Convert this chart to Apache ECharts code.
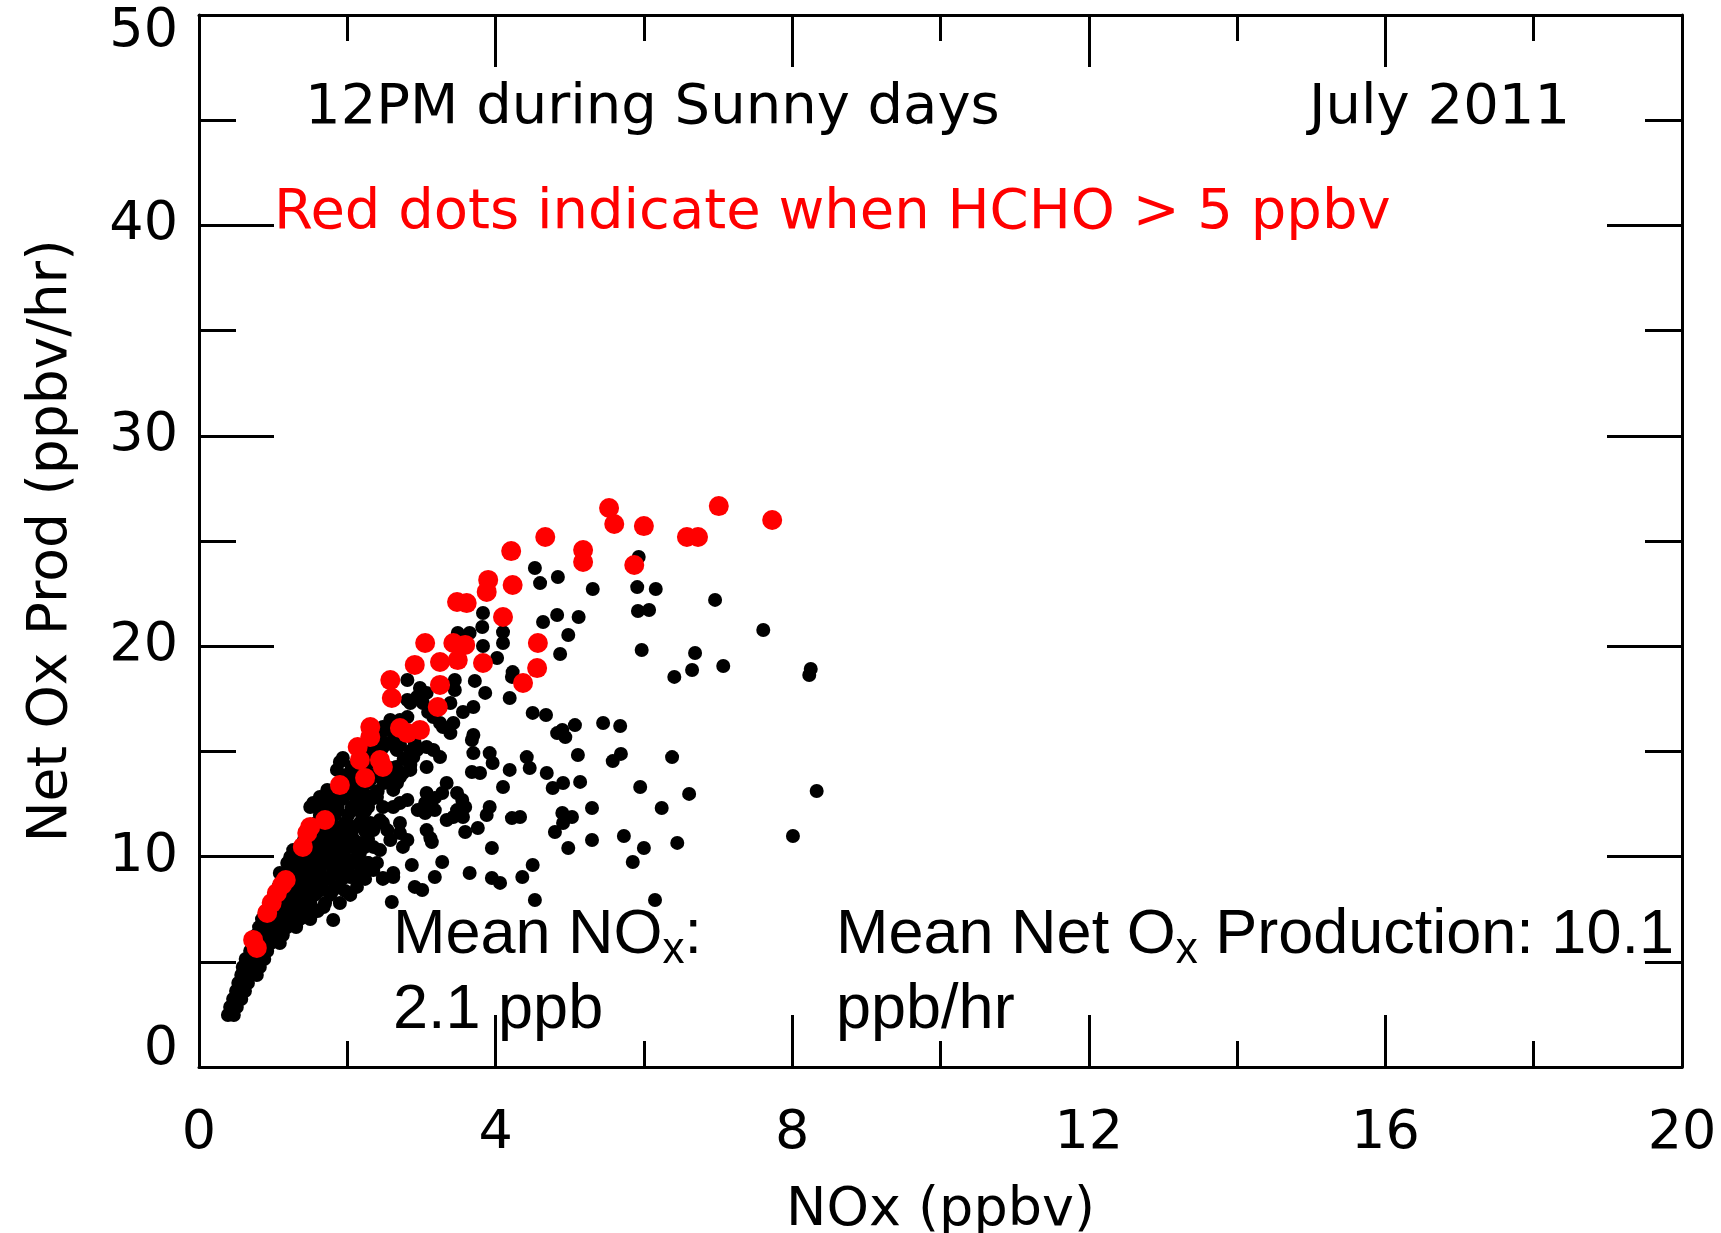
<!DOCTYPE html>
<html>
<head>
<meta charset="utf-8">
<script src="https://cdn.jsdelivr.net/npm/echarts@6/dist/echarts.min.js"></script>
<style>
html,body{margin:0;padding:0;background:#fff;}
#chart{width:1721px;height:1233px;}
</style>
</head>
<body>
<div id="chart"></div>
<script>
// ---- data: [NOx (ppbv), Net Ox Prod (ppbv/hr)] ----
const xAxisRange = [0, 20];
const yAxisRange = [0, 50];
const xTickStep = 4;
const yTickStep = 10;

// black dots: scattered upper / right part
const blackScatter = [
  [5.93,24.24],[5.91,22.81],[6.16,22.72],[5.92,21.67],[6.07,21.72],[6.96,22.20],[7.61,20.77],[5.97,19.82],
  [6.69,19.68],[6.65,18.87],[6.41,18.54],[7.07,19.06],[8.25,18.92],[8.23,18.63],[5.45,16.35],[5.68,16.21],
  [5.69,14.88],[5.58,14.54],[6.38,14.73],[5.95,13.31],[6.61,12.98],[6.24,12.31],[8.33,13.12],[5.73,10.98],
  [6.00,10.41],[6.45,10.65],[8.01,10.98],[6.15,7.94],
  [4.53,23.72],[4.60,23.00],[4.84,23.29],[5.31,22.72],[3.83,21.58],[3.82,20.91],[3.65,20.63],[3.49,20.63],
  [4.10,20.67],[4.10,20.15],[4.64,21.15],[4.83,21.48],[5.12,21.39],[4.98,20.53],[4.87,19.63],[3.83,20.01],
  [4.02,19.44],[4.23,18.77],[4.22,18.54],[4.19,17.54],[3.72,18.35],[3.86,17.78],[3.45,18.39],[3.45,17.92],
  [2.81,18.39],[2.98,18.01],[3.07,17.78],[2.94,17.59],[2.85,17.30],[3.02,17.30],[3.09,16.87],[3.39,17.30],
  [3.56,16.87],[3.70,17.11],[2.81,16.63],[3.16,16.63],[3.25,16.35],[3.43,16.35],[3.39,15.87],[3.29,16.16],
  [3.70,15.78],[4.50,16.83],[4.68,16.73],[4.83,15.87],[4.90,16.02],[5.07,16.25],[4.94,15.68],[2.48,16.16],
  [2.44,15.87],[3.68,15.54],[3.70,14.92],[3.92,14.92],[3.96,14.45],[4.42,14.73],[4.46,14.21],[5.11,14.83],
  [4.69,13.97],[4.19,14.12],[4.10,13.31],[4.77,13.26],[4.91,13.50],[5.14,13.55],[3.68,14.02],[3.79,13.97],
  [3.34,13.50],[3.28,13.02],[3.18,12.79],[3.05,12.55],[2.95,12.21],[3.05,12.07],[3.18,12.21],[3.48,13.02],
  [3.55,12.69],[3.48,12.21],[3.43,11.88],[3.34,11.74],[3.59,12.36],[3.56,11.88],[3.92,12.36],[3.88,11.98],
  [4.22,11.83],[4.33,11.88],[4.90,12.07],[5.03,11.88],[4.91,11.60],[4.80,11.17],[5.30,12.31],[4.98,10.41],
  [5.30,10.79],[3.59,11.17],[3.76,11.36],[3.07,11.26],[3.12,10.88],[3.14,10.69],[3.95,10.41],[2.87,9.60],
  [3.28,9.74],[3.18,9.03],[3.65,9.22],[3.95,8.98],[4.06,8.75],[4.36,9.03],[4.50,9.60],[2.91,8.56],
  [3.01,8.41],[2.60,7.84],[4.53,7.94],[5.85,9.74],[2.28,9.70],[1.81,6.99],[2.48,8.98],[2.62,9.03]
];

// black dots: edge of the dense band
const blackBandEdge = [
  [1.90,14.50],[1.94,14.69],[2.81,17.44],[3.25,14.73],[3.07,14.26],[2.94,15.07],[3.16,15.07],[2.67,15.07],
  [2.75,13.97],[2.67,13.50],[2.62,13.17],[3.07,13.02],[2.81,12.69],[2.71,12.55],[2.40,12.83],[2.48,12.36],
  [2.44,11.74],[2.31,11.60],[2.35,11.26],[2.54,11.26],[2.71,11.12],[2.81,10.79],[2.17,12.69],[2.08,12.36],
  [1.86,12.69],[1.73,12.36],[1.63,12.21],[2.00,11.60],[1.90,11.26],[2.00,10.93],[2.08,10.46],[2.17,10.65],
  [2.17,10.17],[1.90,10.31],[1.77,10.17],[1.73,9.70],[1.86,9.51],[1.63,9.36],[1.59,8.89],[1.46,9.03],
  [1.32,9.70],[1.27,9.03],[1.36,8.56],[2.35,10.46],[2.44,10.31],[2.40,9.70],[2.35,9.36],[2.04,9.70],
  [2.04,9.03],[1.86,14.12],[1.73,13.17],[1.63,12.83],[1.54,12.55],[1.50,12.36],[1.27,10.31],[1.23,9.98],
  [1.19,9.70],[1.09,9.22],[2.71,15.30],[2.58,14.21],[2.85,14.35],[2.10,13.88],[2.04,13.17],[2.24,12.93],
  [1.83,11.98],[1.63,11.26],[1.77,10.79],[1.50,10.55],[1.56,9.84],[3.07,15.21],[2.89,14.73],[2.85,14.12],
  [2.71,13.78],[2.44,13.97],[2.62,12.36],[2.48,11.60],[2.71,11.60],[2.75,10.46],[2.58,10.79],[2.62,9.22]
];

// black dots: dense band near the origin
const blackBandCore = [
  [0.39,2.47],[0.47,2.47],[0.42,2.85],[0.51,2.85],[0.46,3.23],[0.57,3.23],[0.50,3.61],[0.62,3.61],
  [0.53,3.99],[0.66,3.99],[0.57,4.37],[0.69,4.37],[0.78,4.37],[0.59,4.75],[0.71,4.75],[0.82,4.75],
  [0.63,5.13],[0.76,5.13],[0.88,5.13],[0.69,5.51],[0.80,5.51],[0.92,5.51],
  [0.73,5.89],[0.85,5.89],[0.97,5.89],[1.09,5.89],[0.77,6.27],[0.89,6.27],[1.01,6.27],[1.13,6.27],
  [0.81,6.65],[0.93,6.65],[1.05,6.65],[1.19,6.65],[1.31,6.65],
  [0.85,7.03],[0.97,7.03],[1.09,7.03],[1.23,7.03],[1.36,7.03],[1.50,7.03],
  [0.90,7.41],[1.02,7.41],[1.15,7.41],[1.28,7.41],[1.42,7.41],[1.60,7.41],
  [0.95,7.60],[1.08,7.60],[1.22,7.60],[1.36,7.60],[1.52,7.60],[1.68,7.60],
  [0.96,7.79],[1.08,7.79],[1.20,7.79],[1.34,7.79],[1.50,7.79],[1.70,7.79],[1.90,7.79],
  [1.01,8.18],[1.13,8.18],[1.27,8.18],[1.40,8.18],[1.56,8.18],[1.77,8.18],[2.04,8.18],
  [1.06,8.37],[1.18,8.37],[1.32,8.37],[1.46,8.37],[1.62,8.37],[1.80,8.37],[1.97,8.37],
  [1.07,8.56],[1.20,8.56],[1.34,8.56],[1.50,8.56],[1.66,8.56],[1.85,8.56],[2.13,8.56],
  [1.12,8.94],[1.25,8.94],[1.40,8.94],[1.56,8.94],[1.74,8.94],[1.93,8.94],[2.24,8.94],[2.48,8.94],
  [1.18,9.13],[1.32,9.13],[1.47,9.13],[1.63,9.13],[1.80,9.13],[1.98,9.13],[2.15,9.13],
  [1.19,9.32],[1.32,9.32],[1.47,9.32],[1.63,9.32],[1.81,9.32],[2.01,9.32],[2.20,9.32],
  [1.24,9.70],[1.39,9.70],[1.54,9.70],[1.70,9.70],[1.87,9.70],[2.10,9.70],[2.28,9.70],
  [1.30,9.89],[1.45,9.89],[1.61,9.89],[1.78,9.89],[1.96,9.89],[2.14,9.89],
  [1.31,10.08],[1.44,10.08],[1.60,10.08],[1.77,10.08],[1.96,10.08],[2.14,10.08],
  [1.36,10.46],[1.51,10.46],[1.67,10.46],[1.83,10.46],[2.01,10.46],[2.24,10.46],
  [1.40,10.65],[1.56,10.65],[1.72,10.65],[1.88,10.65],[2.05,10.65],[2.22,10.65],
  [1.42,10.84],[1.58,10.84],[1.74,10.84],[1.90,10.84],[2.08,10.84],[2.28,10.84],
  [1.52,11.22],[1.70,11.22],[1.87,11.22],[2.06,11.22],[2.24,11.22],
  [1.56,11.41],[1.73,11.41],[1.91,11.41],[2.10,11.41],
  [1.58,11.60],[1.77,11.60],[1.97,11.60],[2.17,11.60],[1.63,11.98],[1.82,11.98],[2.01,11.98],[2.20,11.98],
  [1.68,12.17],[1.86,12.17],[2.05,12.17],[2.24,12.17],
  [1.69,12.36],[1.87,12.36],[2.06,12.36],[2.28,12.36],[1.74,12.74],[1.93,12.74],[2.12,12.74],[2.33,12.74],
  [1.80,12.93],[1.98,12.93],[2.17,12.93],[2.36,12.93],
  [1.82,13.12],[2.01,13.12],[2.20,13.12],[2.41,13.12],[1.90,13.50],[2.09,13.50],[2.28,13.50],[2.49,13.50],
  [1.94,13.69],[2.13,13.69],[2.32,13.69],[2.52,13.69],
  [1.98,13.88],[2.17,13.88],[2.36,13.88],[2.58,13.88],[2.06,14.26],[2.25,14.26],[2.66,14.26],
  [2.12,14.45],[2.28,14.45],[2.45,14.45],
  [2.17,14.64],[2.33,14.64],[2.76,14.64],[2.28,15.02],[2.44,15.02],[2.85,15.02],
  [2.30,15.20],[2.48,15.20],[2.65,15.20],
  [2.36,15.40],[2.55,15.40],[2.91,15.40],[2.44,15.78],[2.64,15.78],[2.50,16.00],[2.62,16.00],
  [2.58,16.49],[2.71,16.49]
];

// red dots: HCHO > 5 ppbv
const redDots = [
  [5.53,26.57],[5.60,25.81],[6.00,25.71],[6.58,25.19],[6.73,25.19],[7.01,26.66],[7.73,26.00],[5.87,23.86],
  [4.67,25.19],[4.21,24.52],[5.18,24.57],[5.18,24.00],[3.90,23.15],[3.88,22.58],[4.23,22.91],[3.48,22.10],
  [3.61,22.05],[4.10,21.39],[3.05,20.15],[3.43,20.15],[3.59,20.06],[4.57,20.15],[2.91,19.11],[3.25,19.25],
  [3.49,19.34],[3.83,19.20],[4.56,18.96],[4.37,18.25],[2.58,18.39],[3.25,18.16],[2.60,17.54],[3.22,17.11],
  [2.31,16.16],[2.71,16.11],[2.81,15.87],[2.98,16.02],[2.31,15.68],[2.14,15.21],[2.17,14.59],[2.44,14.59],
  [2.48,14.26],[2.24,13.74],[1.90,13.40],[1.70,11.74],[1.50,11.41],[1.46,11.12],[1.40,10.46],[1.12,8.65],
  [1.17,8.89],[1.05,8.27],[0.98,7.79],[0.92,7.32],[0.73,6.04],[0.78,5.66]
];

const blackDots = blackScatter.concat(blackBandEdge, blackBandCore);

// ---- texts ----
const xTitle = 'NOx (ppbv)';
const yTitle = 'Net Ox Prod (ppbv/hr)';
const note1 = '12PM during Sunny days';
const note2 = 'July 2011';
const note3 = 'Red dots indicate when HCHO > 5 ppbv';

const FONT = 'DejaVu Sans';
const ARIAL = 'Liberation Sans';
const lineBlack = {color:'#000', width:3};

function xAxisDef(pos, showLabel) {
  return {
    type:'value', min:xAxisRange[0], max:xAxisRange[1], interval:xTickStep, position:pos,
    name: showLabel ? xTitle : '', nameLocation:'middle', nameGap:114, nameMoveOverlap:false,
    nameTextStyle:{fontFamily:FONT, fontSize:54, color:'#000', verticalAlign:'top', lineHeight:60},
    axisLine:{show:true, onZero:false, lineStyle:lineBlack},
    axisTick:{show:true, inside:true, length:52, lineStyle:lineBlack},
    minorTick:{show:true, splitNumber:2, length:26, lineStyle:lineBlack},
    splitLine:{show:false}, minorSplitLine:{show:false},
    axisLabel:{show:showLabel, fontFamily:FONT, fontSize:54, color:'#000', margin:40, hideOverlap:false}
  };
}
function yAxisDef(pos, showLabel) {
  return {
    type:'value', min:yAxisRange[0], max:yAxisRange[1], interval:yTickStep, position:pos,
    name: showLabel ? yTitle : '', nameLocation:'middle', nameGap:120, nameRotate:90, nameMoveOverlap:false,
    nameTextStyle:{fontFamily:FONT, fontSize:55, color:'#000'},
    axisLine:{show:true, onZero:false, lineStyle:lineBlack},
    axisTick:{show:true, inside:true, length:75, lineStyle:lineBlack},
    minorTick:{show:true, splitNumber:2, length:37, lineStyle:lineBlack},
    splitLine:{show:false}, minorSplitLine:{show:false},
    axisLabel:{show:showLabel, fontFamily:FONT, fontSize:54, lineHeight:34, color:'#000', margin:21, hideOverlap:false,
      verticalAlignMinLabel:'bottom', verticalAlignMaxLabel:'top'}
  };
}

const chart = echarts.init(document.getElementById('chart'), null, {renderer:'canvas'});
chart.setOption({
  animation:false,
  backgroundColor:'#fff',
  grid:{left:199, right:39, top:15, bottom:166, outerBoundsMode:'none', containLabel:false},
  xAxis:[xAxisDef('bottom', true), xAxisDef('top', false)],
  yAxis:[yAxisDef('left', true), yAxisDef('right', false)],
  series:[
    {type:'scatter', xAxisIndex:0, yAxisIndex:0, data:blackDots, symbol:'circle', symbolSize:14,
     itemStyle:{color:'#000', opacity:1}, z:2, silent:true},
    {type:'scatter', xAxisIndex:0, yAxisIndex:0, data:redDots, symbol:'circle', symbolSize:20,
     itemStyle:{color:'#ff0000', opacity:1}, z:3, silent:true}
  ],
  graphic:[
    {type:'text', z:100, x:305, y:108, style:{text:note1, fontFamily:FONT, fontSize:56, fill:'#000', align:'left', verticalAlign:'middle', textAlign:'left', textVerticalAlign:'middle'}},
    {type:'text', z:100, x:1309, y:108, style:{text:note2, fontFamily:FONT, fontSize:56, fill:'#000', align:'left', verticalAlign:'middle', textAlign:'left', textVerticalAlign:'middle'}},
    {type:'text', z:100, x:274, y:213, style:{text:note3, fontFamily:FONT, fontSize:56, fill:'#ff0000', align:'left', verticalAlign:'middle', textAlign:'left', textVerticalAlign:'middle'}},
    {type:'text', z:100, x:393, y:898, style:{
      text:'{a|Mean NO}{s|x}{a|:}\n{a|2.1 ppb}',
      align:'left', verticalAlign:'top', textAlign:'left', textVerticalAlign:'top',
      rich:{a:{fontFamily:ARIAL, fontSize:63, lineHeight:75, fill:'#000', color:'#000'},
            s:{fontFamily:ARIAL, fontSize:44, lineHeight:24, verticalAlign:'bottom', fill:'#000', color:'#000'}}
    }},
    {type:'text', z:100, x:836, y:898, style:{
      text:'{a|Mean Net O}{s|x}{a| Production: 10.1}\n{a|ppb/hr}',
      align:'left', verticalAlign:'top', textAlign:'left', textVerticalAlign:'top',
      rich:{a:{fontFamily:ARIAL, fontSize:63, lineHeight:75, fill:'#000', color:'#000'},
            s:{fontFamily:ARIAL, fontSize:44, lineHeight:24, verticalAlign:'bottom', fill:'#000', color:'#000'}}
    }}
  ]
});
</script>
</body>
</html>
